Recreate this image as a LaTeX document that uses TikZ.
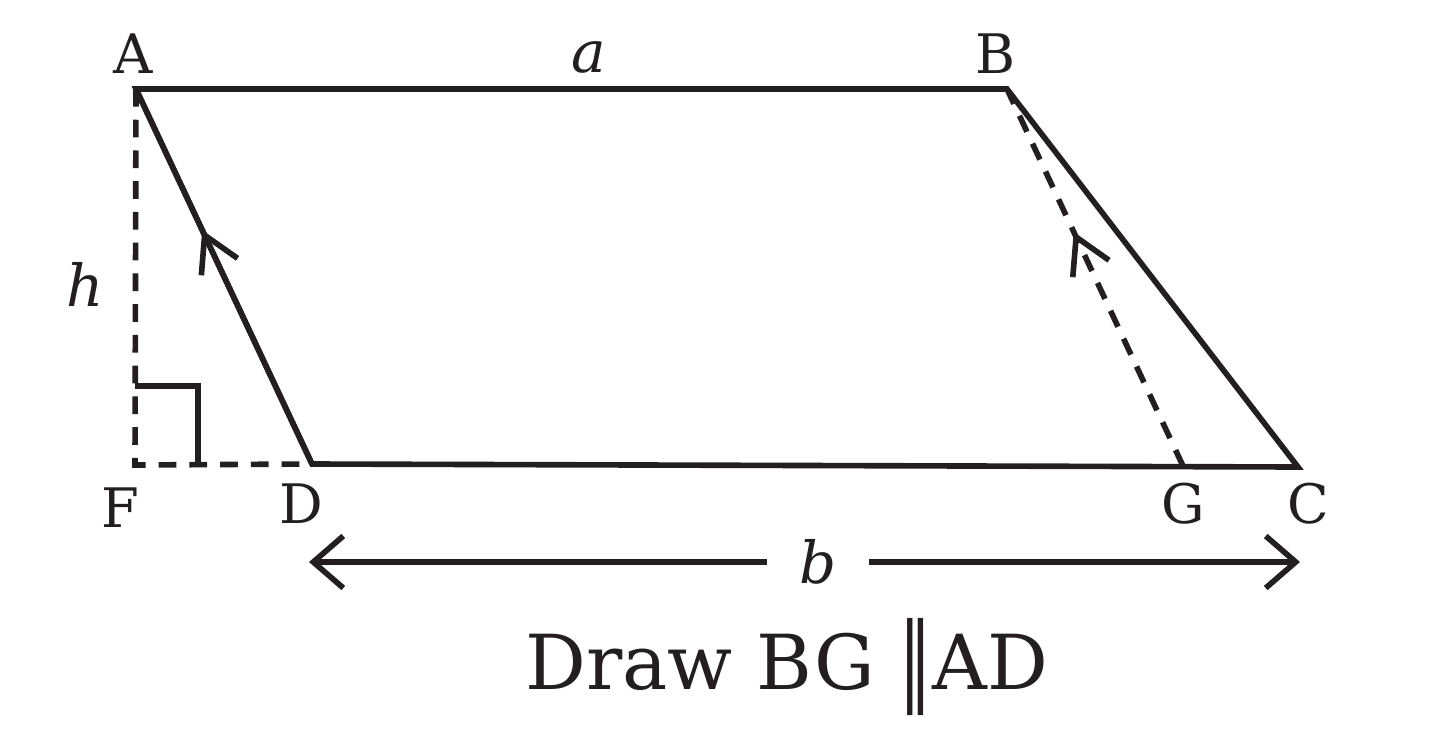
\documentclass[tikz,border=0pt]{standalone}
\usepackage{fontspec}
\setmainfont{DejaVu Serif}
\newfontfamily\symfont{DejaVu Sans}
\usetikzlibrary{arrows.meta,decorations.markings}

\begin{document}
\begin{tikzpicture}[x=0.02cm, y=-0.02cm,
    edge/.style={line width=3.2pt, draw=inkgray},
    dashedge/.style={edge, dash pattern=on 10pt off 7.5pt},
    midarrow/.style={postaction={decorate}, decoration={markings,
        mark=at position #1 with {\arrow{Straight Barb[length=0.7cm, width=0.8cm, line width=3.2pt]}}}},
    dimarrow/.style={edge, -{Straight Barb[length=0.6cm, width=1.04cm, line width=3.2pt]}},
    ptlabel/.style={anchor=base, inner sep=0pt, text=inkgray, font=\fontsize{31}{31}\selectfont},
    varlabel/.style={anchor=base, inner sep=0pt, text=inkgray, font=\fontsize{33}{33}\selectfont\itshape}]
        % Define the ink colour
        \definecolor{inkgray}{RGB}{35,31,32}
        \useasboundingbox (0,0) rectangle (1456,730);

        % Corners of the parallelogram and the feet
        \coordinate (A) at (136,89);
        \coordinate (B) at (1007,89);
        \coordinate (C) at (1298,467);
        \coordinate (D) at (312,464);
        \coordinate (F) at (135,465);
        \coordinate (G) at (1183,466);

        % Right angle mark at F
        \coordinate (sq1) at (135,386);
        \coordinate (sq2) at (198,386);
        \coordinate (sq3) at (198,465);

        % Dashed height and dashed line BG
        \draw[dashedge] (A) -- (F) -- (D);
        \draw[dashedge, midarrow=0.621] (G) -- (B);
        \draw[edge] (sq1) -- (sq2) -- (sq3);

        % Parallelogram
        \draw[edge] (A) -- (B) -- (C) -- (D) -- cycle;
        \path[midarrow=0.624, draw=inkgray, line width=3.2pt] (D) -- (A);

        % Corner labels
        \node[ptlabel] (lA) at (133,73) {A};
        \node[ptlabel] (lB) at (995,73) {B};
        \node[ptlabel] (lF) at (120,527) {F};
        \node[ptlabel] (lD) at (301,523) {D};
        \node[ptlabel] (lG) at (1183,523) {G};
        \node[ptlabel] (lC) at (1308,523) {C};

        % Lengths
        \node[varlabel] (la) at (589,72) {a};
        \node[varlabel] (lh) at (85,306) {h};
        \node[varlabel, anchor=center, minimum width=2.04cm] (lb) at (818,562) {b};

        % Base arrow
        \coordinate (bL) at (309,562);
        \coordinate (bR) at (1300,562);
        \draw[dimarrow] (lb.west) -- (bL);
        \draw[dimarrow] (lb.east) -- (bR);

        % Caption
        \node[anchor=base, inner sep=0pt, text=inkgray, font=\fontsize{43.2}{50}\selectfont] (caption) at (787,689)
            {Draw BG \raisebox{-0.07em}{\symfont\scalebox{0.9}[1.3]{∥}}AD};
    \end{tikzpicture}
\end{document}
